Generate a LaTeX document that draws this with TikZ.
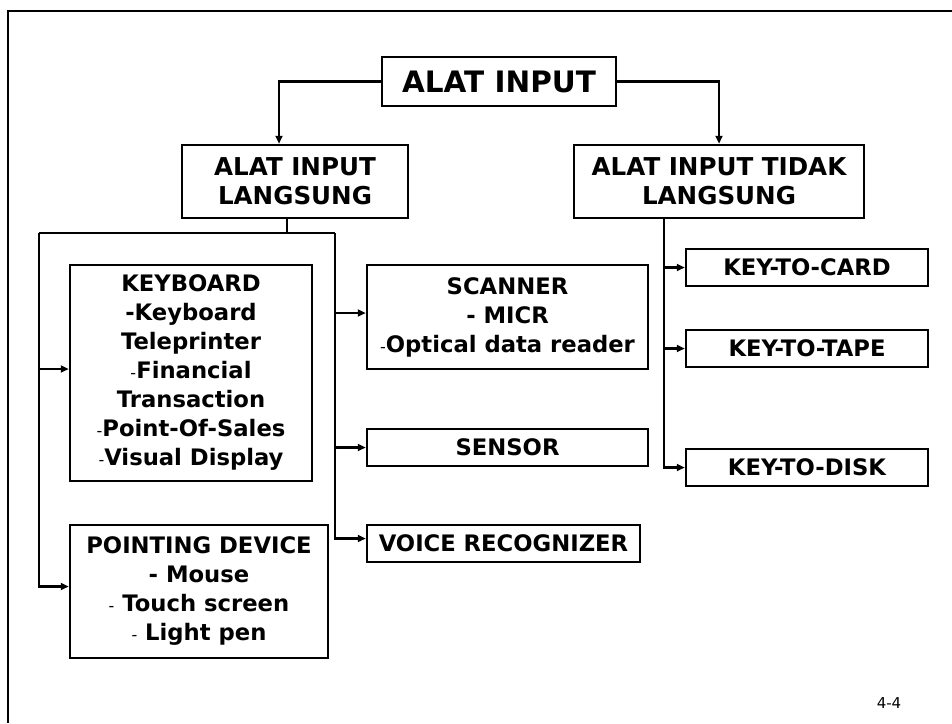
\documentclass[tikz,border=0pt]{standalone}
\usepackage{fontspec}
\setmainfont{DejaVu Sans}
\usetikzlibrary{arrows.meta,positioning}
\newcommand{\thindash}{{\mdseries\fontsize{16}{16}\selectfont-}}

\begin{document}
\begin{tikzpicture}[x=1pt,y=-1pt,
    box/.style={draw,line width=2.5pt,align=center,inner sep=0pt,
        font=\bfseries\fontsize{22.7}{29}\selectfont},
    head/.style={box,font=\bfseries\fontsize{24.6}{29}\selectfont},
    wire/.style={line width=2.5pt},
    arr/.style={wire,-{Triangle[length=8pt,width=7pt]}}
]
\useasboundingbox (0,0) rectangle (952,723);
% frame
\draw[wire] (952,11) -- (8,11) -- (8,723);

\node[box,minimum width=234pt,minimum height=49pt,font=\bfseries\fontsize{29.5}{34}\selectfont] (input) at (499,81.5) {ALAT INPUT};
\node[head,minimum width=226pt,minimum height=73pt] (direct) at (295,181.5) {ALAT INPUT\\LANGSUNG};
\node[head,minimum width=290pt,minimum height=73pt] (indirect) at (719,181.5) {ALAT INPUT TIDAK\\LANGSUNG};

\node[box,minimum width=242pt,minimum height=216pt] (keyboard) at (191,373)
    {KEYBOARD\\-Keyboard\\Teleprinter\\\thindash Financial\\Transaction\\\thindash Point-Of-Sales\\\thindash Visual Display};
\node[box,minimum width=258pt,minimum height=133pt] (pointing) at (199,591.5)
    {POINTING DEVICE\\- Mouse\\\thindash{} Touch screen\\\thindash{} Light pen};
\node[box,minimum width=281pt,minimum height=104pt] (scanner) at (507.5,317)
    {SCANNER\\- MICR\\\thindash Optical data reader};
\node[box,minimum width=281pt,minimum height=37pt] (sensor) at (507.5,447.5) {SENSOR};
\node[box,minimum width=273pt,minimum height=37pt] (voice) at (503.5,543.5) {VOICE RECOGNIZER};

\node[box,minimum width=242pt,minimum height=37pt] (card) at (807,267.5) {KEY-TO-CARD};
\node[box,minimum width=242pt,minimum height=37pt] (tape) at (807,348.5) {KEY-TO-TAPE};
\node[box,minimum width=242pt,minimum height=37pt] (disk) at (807,467.5) {KEY-TO-DISK};

\node[font=\fontsize{15}{15}\selectfont] (page) at (889,703) {4-4};

% connectors
\draw[arr] (input.west) -| ([xshift=-16pt]direct.north);
\draw[arr] (input.east) -| (indirect.north);

\coordinate (lbus) at (39,233);
\coordinate (rbus) at (335,233);
\draw[wire] ([xshift=-8pt]direct.south) -- ([xshift=-8pt]direct.south |- lbus);
\draw[wire] (lbus) -- (rbus);
\draw[arr] (lbus) |- ([yshift=4pt]keyboard.west);
\draw[arr] (lbus) |- ([yshift=5pt]pointing.west);
\draw[arr] (rbus) |- ([yshift=4pt]scanner.west);
\draw[arr] (rbus) |- (sensor.west);
\draw[arr] (rbus) |- ([yshift=5pt]voice.west);

\coordinate (ibus) at ([xshift=-55pt]indirect.south);
\draw[arr] (ibus) |- (card.west);
\draw[arr] (ibus) |- (tape.west);
\draw[arr] (ibus) |- (disk.west);
\end{tikzpicture}
\end{document}
